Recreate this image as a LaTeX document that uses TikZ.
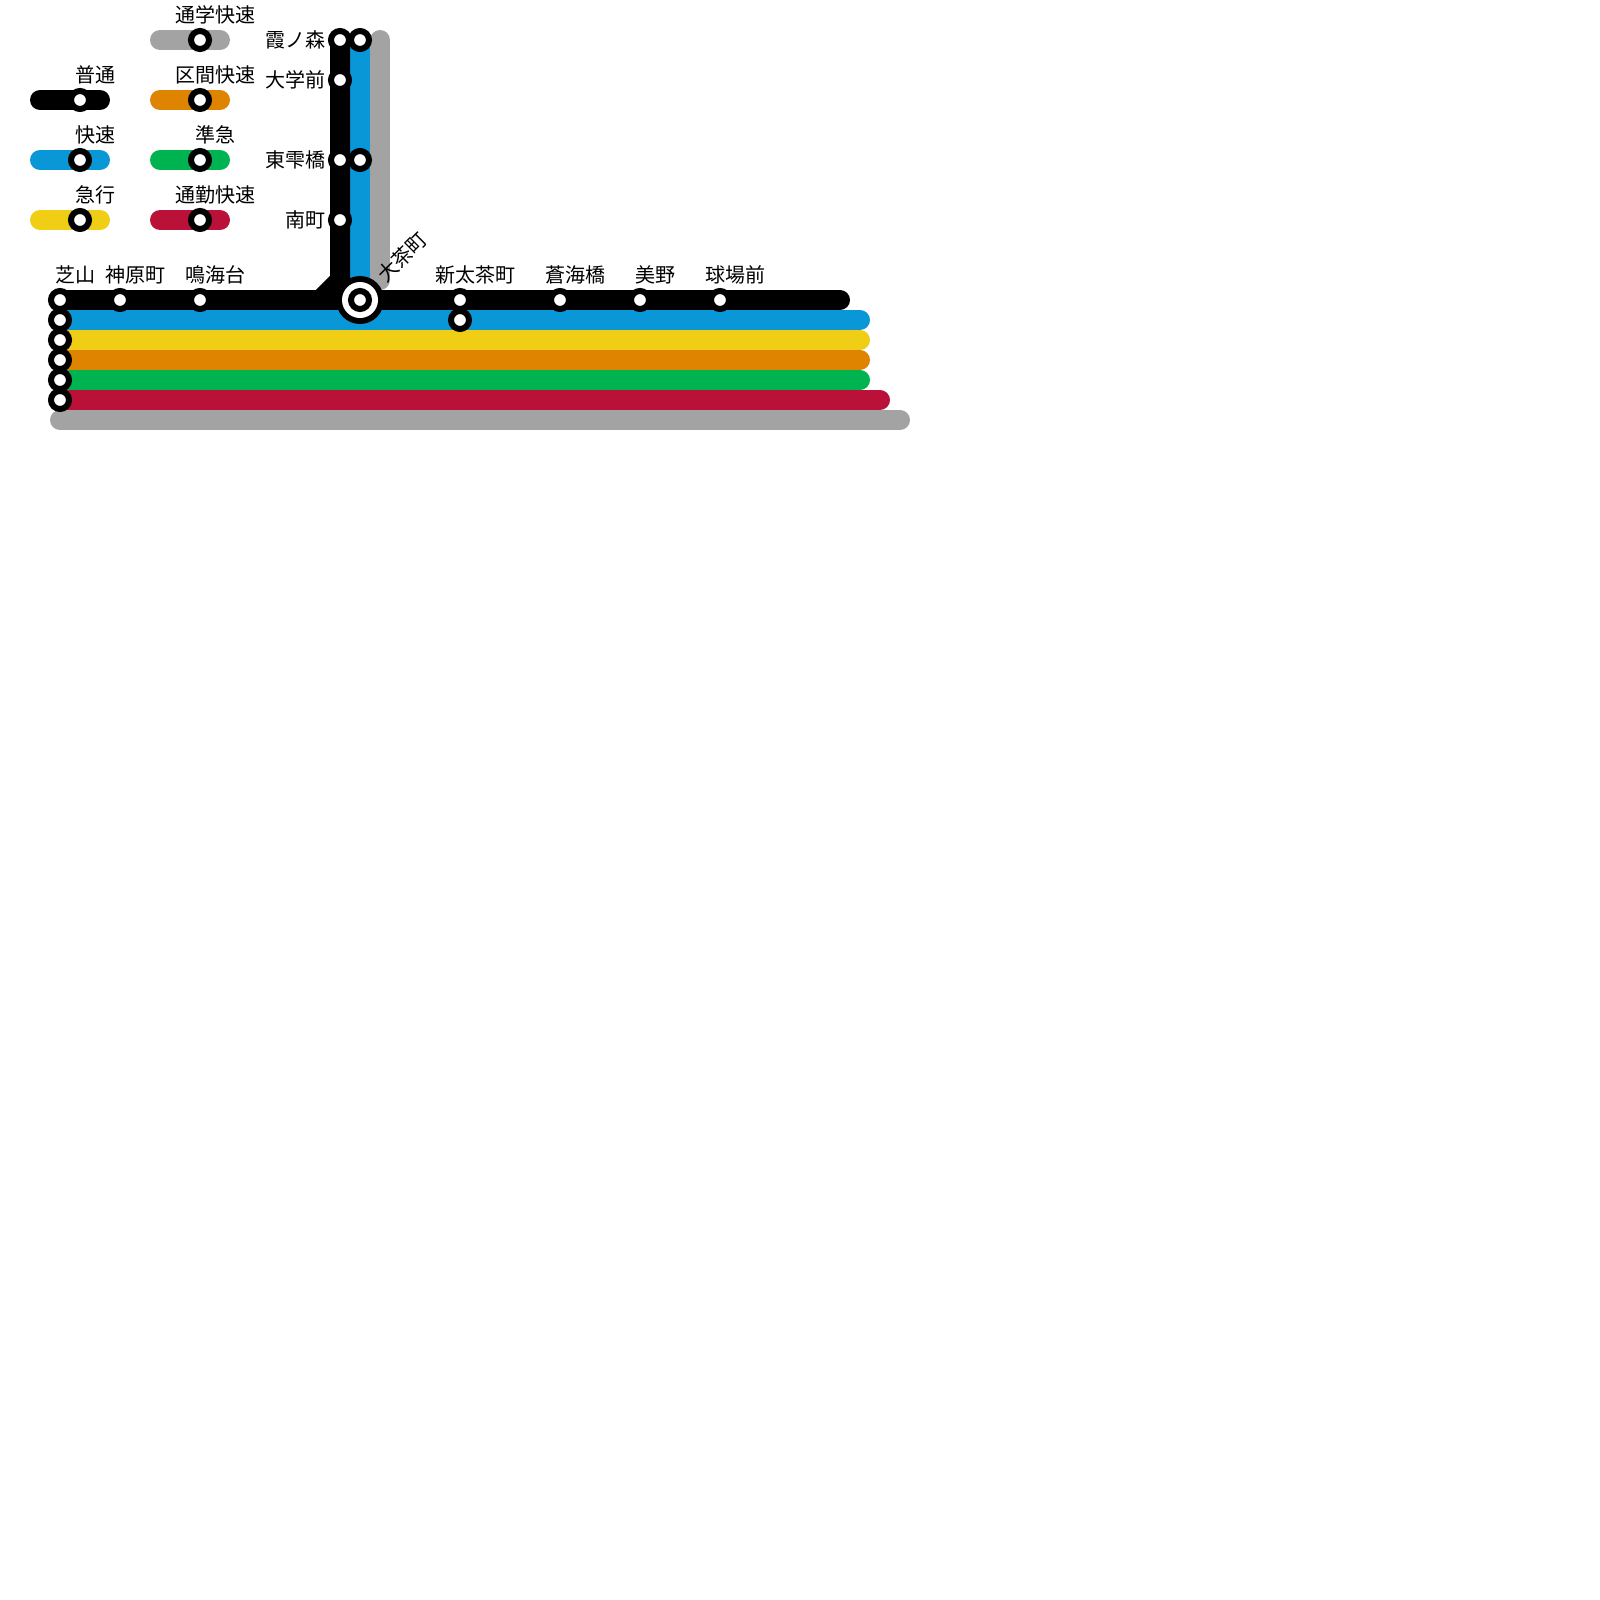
\documentclass[tikz,border=0pt]{standalone}
\usepackage{fontspec}
\setmainfont{Noto Sans CJK JP}
\definecolor{lblue}{HTML}{0997D8}
\definecolor{lyellow}{HTML}{F0CE15}
\definecolor{lorange}{HTML}{DE8400}
\definecolor{lgreen}{HTML}{00B351}
\definecolor{lred}{HTML}{BA1139}
\definecolor{lgrey}{HTML}{A3A3A3}
\tikzset{
 railline/.style={line width=20pt,line cap=round,line join=miter},
 stn/.style={circle,draw=black,fill=white,line width=6pt,minimum size=18pt,inner sep=0pt},
 lbl/.style={font=\fontsize{20pt}{20pt}\selectfont,inner sep=0pt,text=black},
 lblup/.style={lbl,anchor=center},
 lblleft/.style={lbl,anchor=east},
 hubo/.style={circle,fill=black,minimum size=48pt,inner sep=0pt},
 hubm/.style={circle,fill=white,minimum size=36pt,inner sep=0pt},
}
\begin{document}
\begin{tikzpicture}[x=1pt,y=-1pt]
\useasboundingbox (0,0) rectangle (1600,1600);
\fill[white] (0,0) rectangle (1600,1600);
% endpoints
\coordinate (kg) at (60,420); \coordinate (kge) at (900,420);
\coordinate (vgb) at (380,280); \coordinate (vgt) at (380,40);
\coordinate (re) at (880,400); \coordinate (ge) at (860,380);
\coordinate (oe) at (860,360); \coordinate (ye) at (860,340);
\coordinate (be) at (860,320); \coordinate (ke) at (840,300);
\coordinate (kb1) at (320,300); \coordinate (kb2) at (340,280);
\coordinate (bb) at (360,300);
\foreach \n/\x/\y in {L1a/40/100,L1b/100/100,L2a/40/160,L2b/100/160,L3a/40/220,L3b/100/220,
 R0a/160/40,R0b/220/40,R1a/160/100,R1b/220/100,R2a/160/160,R2b/220/160,R3a/160/220,R3b/220/220}
 {\coordinate (\n) at (\x,\y);}
% legend lines
\draw[railline,black] (L1a) -- (L1b);
\draw[railline,lblue] (L2a) -- (L2b);
\draw[railline,lyellow] (L3a) -- (L3b);
\draw[railline,lgrey] (R0a) -- (R0b);
\draw[railline,lorange] (R1a) -- (R1b);
\draw[railline,lgreen] (R2a) -- (R2b);
\draw[railline,lred] (R3a) -- (R3b);
% main lines
\draw[railline,lgrey] (vgt) -- (vgb);
\draw[railline,lgrey] (kg) -- (kge);
\draw[railline,lred] (60,400) -- (re);
\draw[railline,lgreen] (60,380) -- (ge);
\draw[railline,lorange] (60,360) -- (oe);
\draw[railline,lyellow] (60,340) -- (ye);
\draw[railline,lblue] (60,320) -- (be);
\draw[railline,lblue] (bb) -- (360,40);
\draw[railline,black] (60,300) -- (ke);
\draw[railline,black,line cap=butt] (kb1) -- (kb2) -- (340,40);
% legend stations
\node[stn] (sL1) at (80,100) {};
\node[stn] (sL2) at (80,160) {};
\node[stn] (sL3) at (80,220) {};
\node[stn] (sR0) at (200,40) {};
\node[stn] (sR1) at (200,100) {};
\node[stn] (sR2) at (200,160) {};
\node[stn] (sR3) at (200,220) {};
% stations
\node[stn] (a1) at (340,40) {};
\node[stn] (a2) at (360,40) {};
\node[stn] (a3) at (340,80) {};
\node[stn] (a4) at (340,160) {};
\node[stn] (a5) at (360,160) {};
\node[stn] (a6) at (340,220) {};
\foreach \y in {300,320,340,360,380,400}{\node[stn] (w\y) at (60,\y) {};}
\node[stn] (b1) at (120,300) {};
\node[stn] (b2) at (200,300) {};
\node[stn] (b3) at (460,300) {};
\node[stn] (b4) at (460,320) {};
\node[stn] (b5) at (560,300) {};
\node[stn] (b6) at (640,300) {};
\node[stn] (b7) at (720,300) {};
\node[hubo] (h1) at (360,300) {};
\node[hubm] (h2) at (360,300) {};
\node[stn] (h3) at (360,300) {};
% legend labels
\node[lblup] (t1) at (95,74.5) {普通};
\node[lblup] (t2) at (95,134.5) {快速};
\node[lblup] (t3) at (95,194.5) {急行};
\node[lblup] (t4) at (215,14.5) {通学快速};
\node[lblup] (t5) at (215,74.5) {区間快速};
\node[lblup] (t6) at (215,134.5) {準急};
\node[lblup] (t7) at (215,194.5) {通勤快速};
% station labels
\node[lblleft] (u1) at (325.5,40) {霞ノ森};
\node[lblleft] (u2) at (325.5,80) {大学前};
\node[lblleft] (u3) at (325.5,160) {東雫橋};
\node[lblleft] (u4) at (325.5,220) {南町};
\node[lblup] (v1) at (75,274.5) {芝山};
\node[lblup] (v2) at (135,274.5) {神原町};
\node[lblup] (v3) at (215,274.5) {鳴海台};
\node[lblup] (v4) at (475,274.5) {新太茶町};
\node[lblup] (v5) at (575,274.5) {蒼海橋};
\node[lblup] (v6) at (655,274.5) {美野};
\node[lblup] (v7) at (735,274.5) {球場前};
\node[lblup,rotate=45] (v8) at (402,257) {大茶町};
\end{tikzpicture}
\end{document}
